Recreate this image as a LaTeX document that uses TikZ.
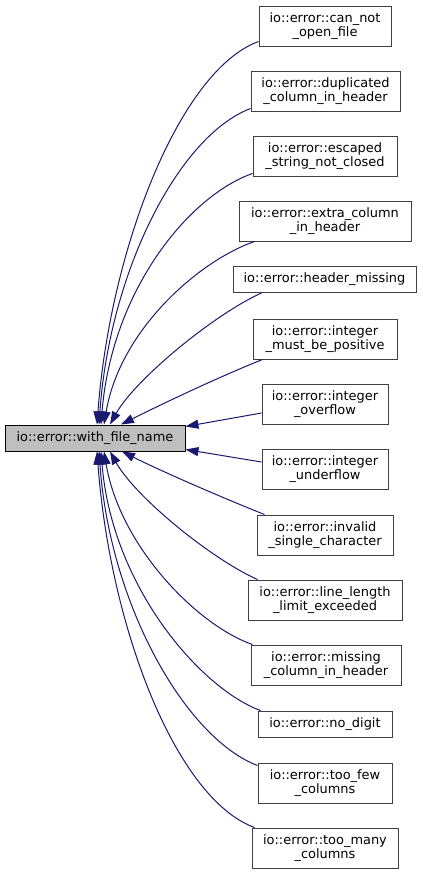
\documentclass[tikz,border=0pt]{standalone}
\usepackage{fontspec}
\setmainfont{DejaVu Sans}
\usepackage{tikz}
\usetikzlibrary{positioning, calc}
\usetikzlibrary{arrows.meta}
\definecolor{edgeblue}{HTML}{191970}
\definecolor{basegray}{HTML}{BFBFBF}
\definecolor{boxline}{HTML}{404040}

\begin{document}
\begin{tikzpicture}[x=0.75pt,y=-0.75pt,
    cls/.style={draw=boxline, line width=0.75pt, fill=white, align=center, inner sep=0pt,
        minimum height=30pt, font=\fontsize{9.7}{10.8}\selectfont},
    oneline/.style={cls, minimum height=19.5pt},
    baseclass/.style={oneline, draw=black, fill=basegray},
    inherit/.style={draw=edgeblue, line width=0.75pt, -{Triangle[length=9.75pt,width=6.75pt]}}]
    \useasboundingbox (0,0) rectangle (423,875);
    % base class
    \node[baseclass, minimum width=135pt] (base) at (95,438) {io::error::with\_file\_name};
    % derived classes
    \node[cls, minimum width=99pt] (cannotopen) at (325,26) {io::error::can\_not\\\_open\_file};
    \node[cls, minimum width=111.75pt] (dupcol) at (325.5,91) {io::error::duplicated\\\_column\_in\_header};
    \node[cls, minimum width=108pt] (escaped) at (325,156) {io::error::escaped\\\_string\_not\_closed};
    \node[cls, minimum width=129pt] (extracol) at (325,221) {io::error::extra\_column\\\_in\_header};
    \node[oneline, minimum width=137.25pt] (headermiss) at (324.5,279.5) {io::error::header\_missing};
    \node[cls, minimum width=108pt] (intpos) at (325,339) {io::error::integer\\\_must\_be\_positive};
    \node[cls, minimum width=94.5pt] (intover) at (325,404) {io::error::integer\\\_overflow};
    \node[cls, minimum width=94.5pt] (intunder) at (325,469) {io::error::integer\\\_underflow};
    \node[cls, minimum width=102pt] (invalidchar) at (325,535) {io::error::invalid\\\_single\_character};
    \node[cls, minimum width=115.5pt] (linelimit) at (325,600) {io::error::line\_length\\\_limit\_exceeded};
    \node[cls, minimum width=112.5pt] (missingcol) at (326,665) {io::error::missing\\\_column\_in\_header};
    \node[oneline, minimum width=100.5pt] (nodigit) at (325,724) {io::error::no\_digit};
    \node[cls, minimum width=100.5pt] (toofew) at (325,783) {io::error::too\_few\\\_columns};
    \node[cls, minimum width=109.5pt] (toomany) at (325,848) {io::error::too\_many\\\_columns};
    % inheritance arrows
    \draw[inherit] ($(cannotopen.south west)+(0,-5)$) .. controls +(-79,29) and +(13,-175) .. ($(base.north)+(2,0)$);
    \draw[inherit] ($(dupcol.south west)+(0,-3)$) .. controls +(-71,27) and +(11,-155) .. ($(base.north)+(4,0)$);
    \draw[inherit] ($(escaped.south west)+(0,-3)$) .. controls +(-63,22) and +(11,-135) .. ($(base.north)+(6,0)$);
    \draw[inherit] ($(extracol.south west)+(16,0)$) .. controls +(-55,19) and +(16,-95) .. ($(base.north)+(9,0)$);
    \draw[inherit] ($(headermiss.south west)+(29,0)$) .. controls +(-47,21) and +(25,-45) .. ($(base.north)+(15,0)$);
    \draw[inherit] ($(intpos.south west)+(10,0)$) .. controls +(-45,18) and +(40,-20) .. ($(base.north)+(26,0)$);
    \draw[inherit] ($(intover.west)+(0,9)$) -- ($(base.north east)+(0,2)$);
    \draw[inherit] ($(intunder.west)+(0,-7)$) -- ($(base.south east)+(0,-2)$);
    \draw[inherit] ($(invalidchar.north west)+(8,0)$) .. controls +(-45,-18) and +(40,20) .. ($(base.south)+(27,0)$);
    \draw[inherit] ($(linelimit.north west)+(10,0)$) .. controls +(-47,-21) and +(25,45) .. ($(base.south)+(15,0)$);
    \draw[inherit] ($(missingcol.north west)+(2,0)$) .. controls +(-55,-19) and +(16,95) .. ($(base.south)+(9,0)$);
    \draw[inherit] ($(nodigit.north west)+(3,0)$) .. controls +(-60,-22) and +(11,135) .. ($(base.south)+(6,0)$);
    \draw[inherit] ($(toofew.north west)+(0,3)$) .. controls +(-71,-27) and +(11,155) .. ($(base.south)+(4,0)$);
    \draw[inherit] ($(toomany.north west)+(3,0)$) .. controls +(-79,-29) and +(13,175) .. ($(base.south)+(2,0)$);
\end{tikzpicture}
\end{document}
